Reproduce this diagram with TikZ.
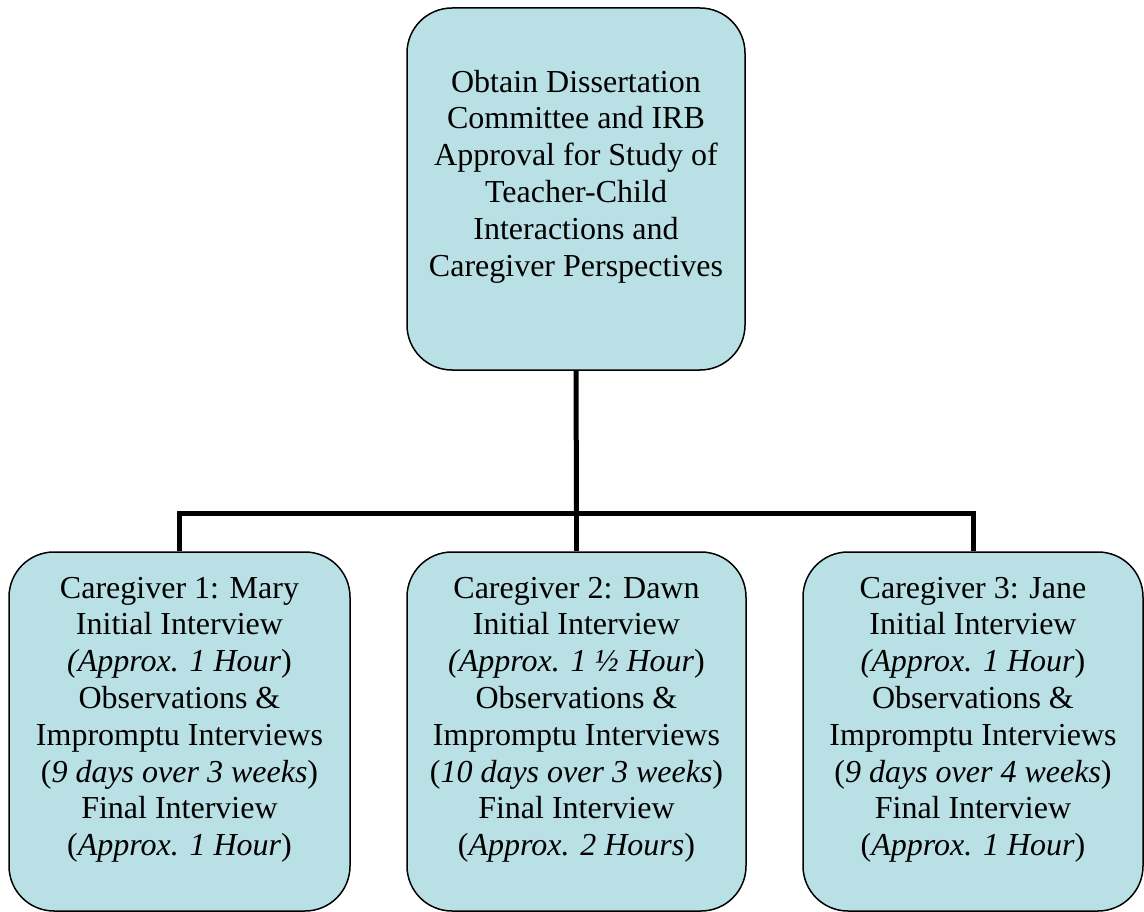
\documentclass[tikz,border=0pt]{standalone}
\usepackage{fontspec}
\setmainfont{Liberation Serif}
\definecolor{boxfill}{RGB}{185,224,229}
\tikzset{
  box/.style={draw=black, line width=1.5pt, fill=boxfill, rounded corners=45pt, inner sep=0pt},
  txt/.style={align=center, inner sep=0pt, anchor=north, font=\fontsize{32}{36.8}\selectfont},
  conn/.style={line width=5pt, line join=miter}
}
\begin{document}
\begin{tikzpicture}[x=1pt,y=-1pt]
\useasboundingbox (0,0) rectangle (1144,912);
% boxes
\node[box, minimum width=338pt, minimum height=362pt] (top) at (576,189) {};
\node[box, minimum width=341pt, minimum height=359pt] (b1) at (179.5,731.5) {};
\node[box, minimum width=339pt, minimum height=359pt] (b2) at (576.5,731.5) {};
\node[box, minimum width=340pt, minimum height=359pt] (b3) at (973,731.5) {};
% connectors
\coordinate (bus) at (576.5,513);
\draw[conn] (top.south) -- (bus);
\draw[conn] (b1.north) |- (bus) -| (b3.north);
\draw[conn] (bus) -- (b2.north);
% texts
\node[txt] (ttop) at (576,66.2) {\strut Obtain Dissertation\\Committee and IRB\\Approval for Study of\\Teacher-Child\\Interactions and\\Caregiver Perspectives};
\node[txt] (t1) at (179.5,572.2) {\strut Caregiver 1: Mary\\Initial Interview\\\textit{(Approx. 1 Hour})\\Observations \&\\Impromptu Interviews\\(\textit{9 days over 3 weeks})\\Final Interview\\(\textit{Approx. 1 Hour})};
\node[txt] (t2) at (576.5,572.2) {\strut Caregiver 2: Dawn\\Initial Interview\\\textit{(Approx. 1 ½ Hour})\\Observations \&\\Impromptu Interviews\\(\textit{10 days over 3 weeks})\\Final Interview\\(\textit{Approx. 2 Hours})};
\node[txt] (t3) at (973,572.2) {\strut Caregiver 3: Jane\\Initial Interview\\\textit{(Approx. 1 Hour})\\Observations \&\\Impromptu Interviews\\(\textit{9 days over 4 weeks})\\Final Interview\\(\textit{Approx. 1 Hour})};
\end{tikzpicture}
\end{document}
